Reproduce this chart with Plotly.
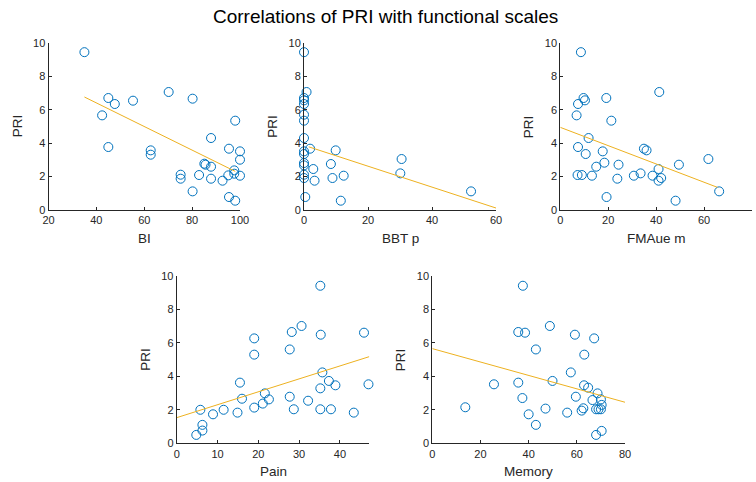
import plotly.graph_objects as go

# --- data ---
bi_x = [35, 45, 47.7, 42.4, 45, 55.3, 62.7, 62.7, 70.2, 80.2, 75.2, 75.2, 80.2, 82.9,
        85.1, 85.6, 87.9, 87.9, 87.9, 92.7, 95.4, 95.1, 95.4, 98, 97.6, 97.6, 98,
        100, 100, 100]
bi_pri = [9.45, 6.7, 6.34, 5.66, 3.76, 6.54, 3.56, 3.3, 7.06, 6.66, 2.1, 1.86, 1.1, 2.08,
          2.76, 2.7, 2.58, 4.3, 1.86, 1.74, 3.66, 2.06, 0.76, 5.34, 2.36, 2.16, 0.54,
          3.5, 3.0, 2.04]
bi_fit_x = [35, 98]
bi_fit_y = [6.76, 2.3]

bbt_x = [0, 0.8, 0, 0, 0, 0, 0, 0, 0, 0, 1.9, 0, 0, 0, 0, 2.9, 3.3, 0.4, 8.4, 9.9,
         8.9, 12.4, 11.5, 30.5, 30.1, 52.2]
bbt_pri = [9.45, 7.06, 6.7, 6.56, 6.34, 5.7, 5.34, 4.3, 3.5, 3.34, 3.66, 2.8, 2.66, 2.1,
           1.9, 2.44, 1.74, 0.76, 2.74, 3.56, 1.9, 2.04, 0.54, 3.04, 2.18, 1.1]
bbt_fit_x = [1.5, 60]
bbt_fit_y = [3.77, 0.1]

fma_x = [8.6, 7.4, 9.7, 10.3, 6.8, 19.2, 21.3, 41.3, 11.8, 7.4, 10.6, 17.7, 15.0, 18.4,
         24.3, 23.8, 7.2, 9.0, 13.2, 19.3, 30.7, 33.5, 34.9, 36.0, 38.5, 41.0, 41.0,
         42.1, 49.5, 48.1, 61.8, 66.3]
fma_pri = [9.45, 6.34, 6.7, 6.56, 5.66, 6.7, 5.34, 7.06, 4.3, 3.76, 3.34, 3.5, 2.58, 2.82,
           2.7, 1.86, 2.08, 2.08, 2.04, 0.76, 2.04, 2.18, 3.66, 3.56, 2.04, 2.44, 1.74,
           1.9, 2.7, 0.54, 3.04, 1.1]
fma_fit_x = [0, 65.6]
fma_fit_y = [4.94, 1.34]

pain_x = [4.8, 6.3, 6.3, 5.8, 8.9, 11.5, 14.9, 15.5, 16.0, 19.0, 19.0, 19.0, 21.1, 21.6,
          22.6, 27.7, 28.2, 27.7, 28.7, 30.6, 32.2, 35.2, 35.3, 35.7, 35.2, 35.2, 37.3,
          37.8, 38.9, 43.4, 45.9, 47.0]
pain_pri = [0.5, 0.76, 1.1, 2.0, 1.73, 2.0, 1.83, 3.62, 2.66, 6.26, 5.29, 2.13, 2.37, 2.98,
            2.62, 5.6, 6.64, 2.78, 2.03, 7.0, 2.54, 9.4, 6.48, 4.23, 3.28, 2.03, 3.72,
            2.03, 3.46, 1.83, 6.6, 3.52]
pain_fit_x = [0, 47.2]
pain_fit_y = [1.53, 5.17]

mem_x = [13.7, 25.6, 37.6, 35.7, 38.5, 35.7, 37.4, 40.0, 43.0, 43.0, 47.0, 48.8, 49.9,
         56.0, 57.5, 59.2, 59.6, 62.0, 62.7, 63.1, 63.0, 64.7, 67.2, 66.5, 68.6, 70.0,
         68.0, 69.0, 70.0, 70.3, 68.0, 70.3]
mem_pri = [2.15, 3.52, 9.4, 6.64, 6.6, 3.62, 2.7, 1.73, 5.6, 1.1, 2.07, 7.0, 3.72, 1.83,
           4.23, 6.48, 2.78, 1.95, 2.09, 5.29, 3.46, 3.32, 6.26, 2.58, 2.98, 2.62, 2.03,
           2.03, 2.03, 2.29, 0.5, 0.74]
mem_fit_x = [0, 80]
mem_fit_y = [5.65, 2.45]

panels = [
    ("BI", bi_x, bi_pri, bi_fit_x, bi_fit_y, [20, 100], [20, 40, 60, 80, 100]),
    ("BBT p", bbt_x, bbt_pri, bbt_fit_x, bbt_fit_y, [0, 60], [0, 20, 40, 60]),
    ("FMAue m", fma_x, fma_pri, fma_fit_x, fma_fit_y, [0, 80], [0, 20, 40, 60, 80]),
    ("Pain", pain_x, pain_pri, pain_fit_x, pain_fit_y, [0, 47.2], [0, 10, 20, 30, 40]),
    ("Memory", mem_x, mem_pri, mem_fit_x, mem_fit_y, [0, 80], [0, 20, 40, 60, 80]),
]
pri_ticks = [0, 2, 4, 6, 8, 10]

W, H = 756, 482
# axes boxes in pixels: (left, right, top, bottom)
boxes = [
    (48.5, 240, 43, 209.7),
    (304, 496, 43, 209.7),
    (560.3, 752, 43, 209.7),
    (176.7, 369.3, 275.7, 443.3),
    (432.3, 625, 275.7, 443.3),
]

BLUE = "#0072BD"
GOLD = "#EDB120"
INK = "#262626"
FONT = "Liberation Sans, Arial, sans-serif"

fig = go.Figure()
annotations = []
for i, (name, xs, ys, fx, fy, xr, xt) in enumerate(panels):
    n = "" if i == 0 else str(i + 1)
    l, r, t, b = boxes[i]
    fig.add_trace(go.Scatter(
        x=xs, y=ys, mode="markers", xaxis="x" + n, yaxis="y" + n,
        marker=dict(symbol="circle-open", size=9, color=BLUE, line=dict(width=1, color=BLUE)),
        showlegend=False, cliponaxis=False,
    ))
    fig.add_trace(go.Scatter(
        x=fx, y=fy, mode="lines", xaxis="x" + n, yaxis="y" + n,
        line=dict(color=GOLD, width=1), showlegend=False,
    ))
    axis_common = dict(
        showgrid=False, zeroline=False, showline=True, linecolor=INK, linewidth=1,
        ticks="inside", ticklen=3, tickcolor=INK, tickwidth=1,
        tickfont=dict(family=FONT, size=11, color=INK), automargin=False,
    )
    fig.update_layout(**{
        "xaxis" + n: dict(domain=[l / W, r / W], range=xr, tickvals=xt,
                          anchor="y" + n, **axis_common),
        "yaxis" + n: dict(domain=[1 - b / H, 1 - t / H], range=[0, 10], tickvals=pri_ticks,
                          anchor="x" + n, **axis_common),
    })
    annotations.append(dict(
        text=name, xref="x%s domain" % n, yref="y%s domain" % n, x=0.5, y=0,
        xanchor="center", yanchor="top", yshift=-19, showarrow=False,
        font=dict(family=FONT, size=13.5, color=INK),
    ))
    annotations.append(dict(
        text="PRI", xref="x%s domain" % n, yref="y%s domain" % n, x=0, y=0.5,
        xanchor="right", yanchor="middle", xshift=-22, textangle=-90, showarrow=False,
        font=dict(family=FONT, size=13.5, color=INK),
    ))

annotations.append(dict(
    text="Correlations of PRI with functional scales", xref="paper", yref="paper",
    x=385 / W, y=1 - 17 / H, xanchor="center", yanchor="middle", showarrow=False,
    font=dict(family=FONT, size=19, color="#000000"),
))

fig.update_layout(
    width=W, height=H, margin=dict(l=0, r=0, t=0, b=0),
    paper_bgcolor="white", plot_bgcolor="white",
    annotations=annotations,
)

# drop the page's default body margin so the figure sits at the window's corner
fig.write_html("out.html", config={"displayModeBar": False},
               post_script="document.body.style.margin='0';")
